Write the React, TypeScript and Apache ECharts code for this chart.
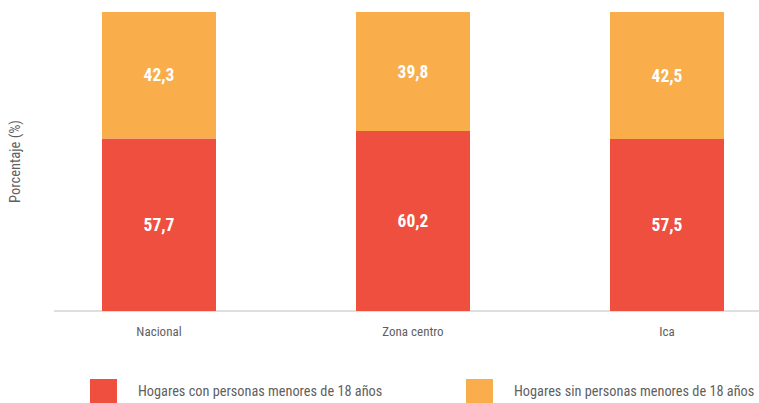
import React, { useEffect, useRef } from "react";
import * as echarts from "echarts";

const categories = ["Nacional", "Zona centro", "Ica"];
const seriesNames = [
  "Hogares con personas menores de 18 años",
  "Hogares sin personas menores de 18 años",
];
const conMenores = [57.7, 60.2, 57.5];
const sinMenores = [42.3, 39.8, 42.5];
const yAxisName = "Porcentaje (%)";

const FONT = '"Roboto Condensed", sans-serif';
const RED = "#EF4F3E";
const ORANGE = "#F9AD4B";
const GRAY = "#5f5f5f";

const fmt = (p: any) => String(p.value).replace(".", ",");

export default function App() {
  const ref = useRef<HTMLDivElement>(null);
  useEffect(() => {
    document.body.style.margin = "0";
    const chart = echarts.init(ref.current!, null, { renderer: "svg" });
    const labelStyle = {
      show: true,
      position: "inside" as const,
      formatter: fmt,
      color: "#ffffff",
      fontFamily: FONT,
      fontWeight: "bold" as const,
      fontSize: 17.5,
    };
    const legendBase = {
      top: 379,
      padding: 0,
      itemWidth: 27,
      itemHeight: 24,
      icon: "rect",
      textStyle: { color: GRAY, fontFamily: FONT, fontSize: 14.3, padding: [0, 0, 0, 16] },
    };
    chart.setOption({
      animation: false,
      grid: { left: 158, top: 12, bottom: 92, right: 92 },
      xAxis: {
        type: "category",
        data: categories,
        boundaryGap: false,
        axisLine: { show: false },
        axisTick: { show: false },
        axisLabel: { margin: 14, color: GRAY, fontFamily: FONT, fontSize: 13 },
      },
      yAxis: {
        type: "value",
        min: 0,
        max: 100,
        name: yAxisName,
        nameLocation: "middle",
        nameGap: 136,
        nameTextStyle: { color: GRAY, fontFamily: FONT, fontSize: 14.5 },
        axisLine: { show: false },
        axisTick: { show: false },
        axisLabel: { show: false },
        splitLine: { show: false },
      },
      legend: [
        { ...legendBase, data: [seriesNames[0]], left: 90 },
        { ...legendBase, data: [seriesNames[1]], left: 466 },
      ],
      graphic: [
        {
          type: "line",
          shape: { x1: 54, y1: 311, x2: 759, y2: 311 },
          style: { stroke: "#d4d4d4", lineWidth: 1.5 },
          z: 1,
        },
      ],
      series: [
        {
          name: seriesNames[0],
          type: "bar",
          stack: "total",
          barWidth: 114,
          clip: false,
          data: conMenores,
          itemStyle: { color: RED },
          label: labelStyle,
          z: 2,
        },
        {
          name: seriesNames[1],
          type: "bar",
          stack: "total",
          barWidth: 114,
          clip: false,
          data: sinMenores,
          itemStyle: { color: ORANGE },
          label: labelStyle,
          z: 2,
        },
      ],
    });
    return () => chart.dispose();
  }, []);
  return <div ref={ref} style={{ width: 759, height: 403 }} />;
}
